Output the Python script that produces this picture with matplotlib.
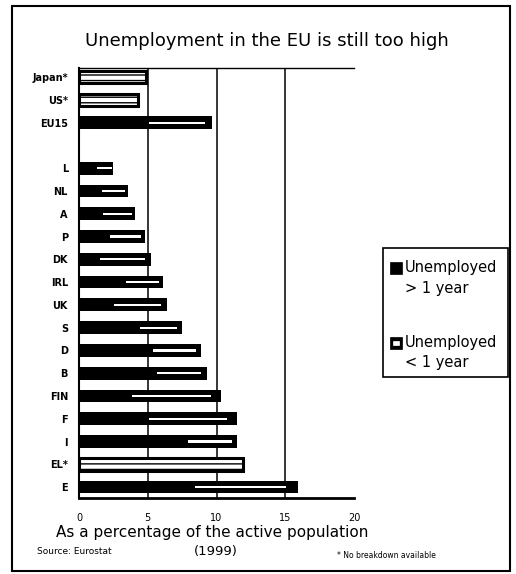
import matplotlib
matplotlib.use("Agg")
import matplotlib.pyplot as plt
from matplotlib.patches import Rectangle
import numpy as np

# ---- data ----
countries = ["Japan*", "US*", "EU15", "L", "NL", "A", "P", "DK", "IRL", "UK",
             "S", "D", "B", "FIN", "F", "I", "EL*", "E"]
total_rate = [4.9, 4.3, 9.7, 2.5, 3.55, 4.1, 4.8, 5.2, 6.1, 6.4,
              7.5, 8.9, 9.3, 10.3, 11.5, 11.5, 11.9, 15.9]
long_term = [np.nan, np.nan, 4.6, 1.15, 1.45, 1.5, 2.0, 1.15, 3.1, 2.1,
             4.1, 5.0, 5.3, 3.1, 4.4, 7.5, np.nan, 7.6]
x_ticks = [0, 5, 10, 15, 20]

title = "Unemployment in the EU is still too high"
xlabel = "As a percentage of the active population"
legend_lines = [("Unemployed", "> 1 year"), ("Unemployed", "< 1 year")]

# ---- figure ----
W, H = 516, 574
fig = plt.figure(figsize=(W / 100, H / 100), dpi=100)
fig.patch.set_facecolor("white")

def fx(px):
    return px / W

def fy(py):
    return 1 - py / H

ax = fig.add_axes([fx(79), fy(498), fx(354) - fx(79), fy(68) - fy(498)])

total = np.array(total_rate)
longv = np.array(long_term)
has_split = ~np.isnan(longv)
shortv = np.where(has_split, total - np.nan_to_num(longv), np.nan)

# positions: a blank slot between the comparison group and EU members
ypos = np.array([i if i < 3 else i + 1 for i in range(len(countries))], dtype=float)
bh = 0.56

# gridlines
for v in x_ticks[1:-1]:
    ax.axvline(v, color="black", lw=1.1, zorder=1)

# bars with breakdown
ax.barh(ypos[has_split], longv[has_split], height=bh, color="black", zorder=3)
ax.barh(ypos[has_split], shortv[has_split], left=longv[has_split], height=bh,
        color="black", zorder=3)
# light streak inside the <1 year segment
ax.barh(ypos[has_split], shortv[has_split] * 0.8,
        left=longv[has_split] + shortv[has_split] * 0.1,
        height=0.1, color="white", zorder=4)

# bars with no breakdown
nb = ~has_split
ax.barh(ypos[nb], total[nb], height=bh, facecolor="white", edgecolor="black",
        lw=2.2, hatch="---", zorder=3)

ax.set_xlim(0, 20)
ax.set_ylim(18.48, -0.4)
ax.set_yticks(ypos)
ax.set_yticklabels(countries, fontsize=7, fontweight="bold")
ax.set_xticks(x_ticks)
ax.set_xticklabels([str(t) for t in x_ticks], fontsize=7)
ax.tick_params(axis="both", length=0)
ax.tick_params(axis="x", pad=11)
ax.tick_params(axis="y", pad=8)

ax.spines["right"].set_visible(False)
ax.spines["left"].set_linewidth(1.5)
ax.spines["bottom"].set_linewidth(2.0)
ax.spines["top"].set_linewidth(1.0)

# title and texts
fig.text(fx(267), fy(41), title, ha="center", va="center", fontsize=13)
fig.text(fx(212), fy(533), xlabel, ha="center", va="center", fontsize=11)
fig.text(fx(37), fy(551), "Source: Eurostat", ha="left", va="center", fontsize=6.5)
fig.text(fx(216), fy(552), "(1999)", ha="center", va="center", fontsize=9.5)
fig.text(fx(337), fy(555), "* No breakdown available", ha="left", va="center", fontsize=5.5)

# legend (drawn by hand)
fig.patches.append(Rectangle((fx(383), fy(377)), fx(508) - fx(383), fy(248) - fy(377),
                             transform=fig.transFigure, fill=False,
                             edgecolor="black", lw=1.2))
key_tops = [262, 337]
for (l1, l2), kt in zip(legend_lines, key_tops):
    fig.patches.append(Rectangle((fx(390), fy(kt + 12)), fx(402) - fx(390),
                                 fy(kt) - fy(kt + 12), transform=fig.transFigure,
                                 facecolor="black", edgecolor="black", lw=0.5))
    fig.text(fx(405), fy(kt + 6), l1, ha="left", va="center", fontsize=10.5)
    fig.text(fx(405), fy(kt + 26), l2, ha="left", va="center", fontsize=10.5)
# inner mark of the "< 1 year" key
fig.patches.append(Rectangle((fx(393), fy(key_tops[1] + 8)), fx(399) - fx(393),
                             fy(key_tops[1] + 4) - fy(key_tops[1] + 8),
                             transform=fig.transFigure, facecolor="white",
                             edgecolor="white", lw=0.5))

# outer frame
fig.patches.append(Rectangle((fx(12), fy(571)), fx(510) - fx(12), fy(6) - fy(571),
                             transform=fig.transFigure, fill=False,
                             edgecolor="black", lw=1.5))

fig.savefig("out.png", dpi=100, facecolor="white")
